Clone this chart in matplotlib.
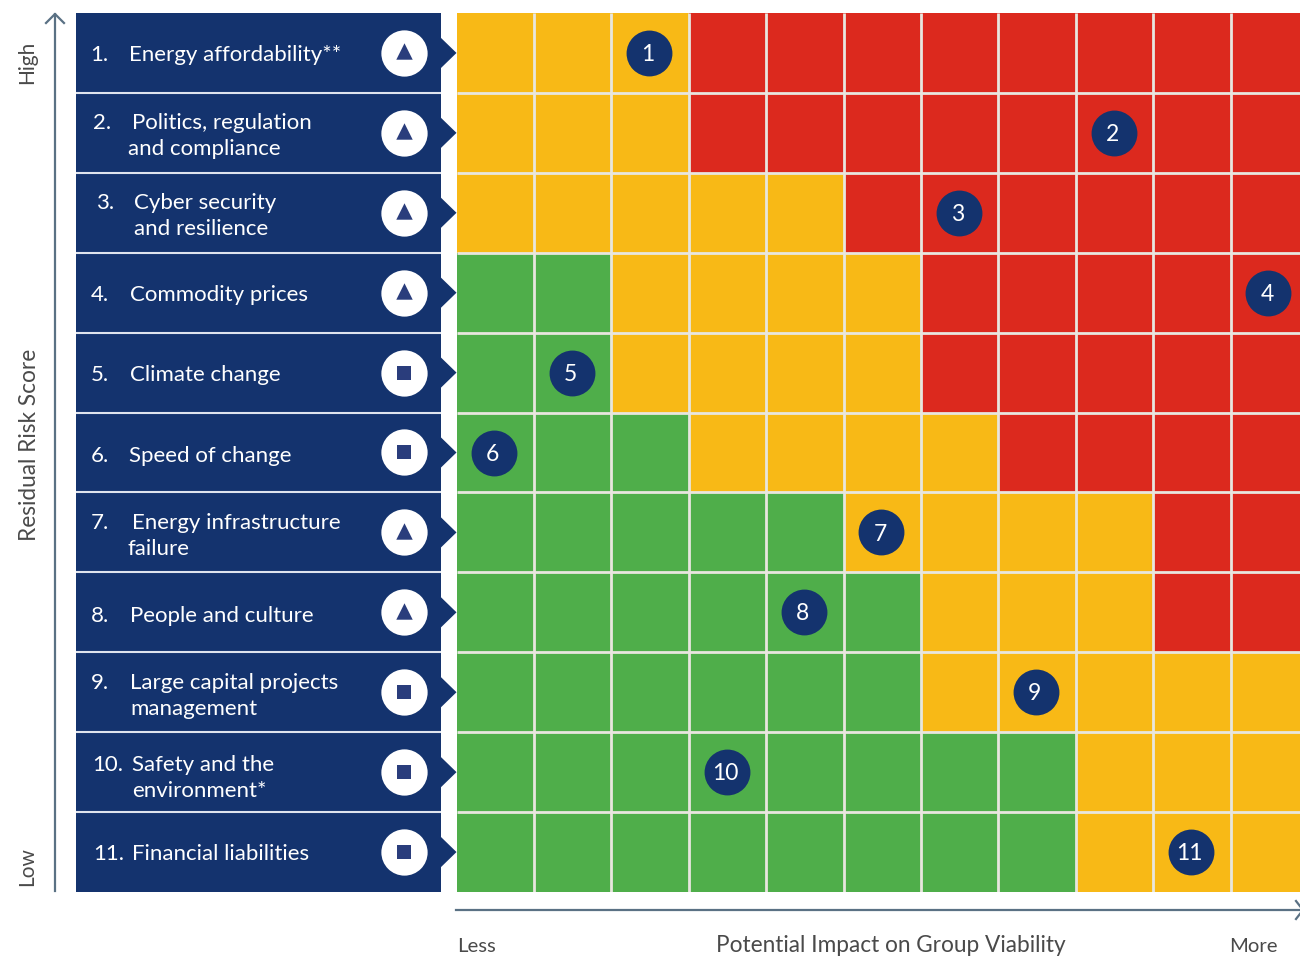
import numpy as np
import matplotlib
matplotlib.use("Agg")
import matplotlib.pyplot as plt
from matplotlib.colors import ListedColormap
from matplotlib.patches import Polygon, Rectangle

plt.rcParams['font.family'] = ['Lato', 'DejaVu Sans']

W, H = 1300, 957
NAVY = '#14336e'
MARK = '#2a3d7c'
ARROW = '#5a7184'
TXT = '#4a4a4a'

# number of green and amber cells in each row, the rest is red
green_cells = [0, 0, 0, 2, 2, 3, 5, 6, 6, 8, 8]
amber_cells = [3, 3, 5, 4, 4, 4, 4, 3, 5, 3, 3]

# column and row of each numbered risk
risk_col = [2, 8, 6, 10, 1, 0, 5, 4, 7, 3, 9]
risk_row = [0, 1, 2, 3, 4, 5, 6, 7, 8, 9, 10]

risk_status = ['up', 'up', 'up', 'up', 'flat', 'flat', 'up', 'up', 'flat', 'flat', 'flat']

# number, then text lines
risk_names = [
    ('1.', ['Energy affordability**']),
    ('2.', ['Politics, regulation', 'and compliance']),
    ('3.', ['Cyber security', 'and resilience']),
    ('4.', ['Commodity prices']),
    ('5.', ['Climate change']),
    ('6.', ['Speed of change']),
    ('7.', ['Energy infrastructure', 'failure']),
    ('8.', ['People and culture']),
    ('9.', ['Large capital projects', 'management']),
    ('10.', ['Safety and the', 'environment*']),
    ('11.', ['Financial liabilities']),
]

# small hand placed offsets of the labels (pixels)
num_x = [90, 93, 96, 91, 91, 91, 91, 91, 91, 92, 93]
line_x = [[129], [132, 128], [134, 134], [130], [130], [129], [132, 128], [130], [130, 130], [132, 132], [132]]
line_y = [[55], [123, 149], [203, 229], [295], [375], [456], [523, 549], [616], [683, 709], [765, 791], [854]]

n_rows = len(green_cells)
n_cols = 11
matrix = np.full((n_rows, n_cols), 2)
for r in range(n_rows):
    matrix[r, :green_cells[r]] = 0
    matrix[r, green_cells[r]:green_cells[r] + amber_cells[r]] = 1

fig = plt.figure(figsize=(W / 100, H / 100), dpi=100, facecolor='white')

# page layer in pixels for the panel and the arrows
page = fig.add_axes([0, 0, 1, 1])
page.set_xlim(0, W)
page.set_ylim(H, 0)
page.axis('off')

# heat grid, cropped on the right like the original
grid_left, grid_top, grid_bottom = 456.5, 13, 892
cell_w = 77.4
cell_h = (grid_bottom - grid_top) / n_rows
ax = fig.add_axes([grid_left / W, 1 - grid_bottom / H, (W - grid_left) / W, (grid_bottom - grid_top) / H])
cmap = ListedColormap(['#4fae4a', '#f8b916', '#dc291e'])
ax.pcolormesh(np.arange(n_cols + 1), np.arange(n_rows + 1), matrix, cmap=cmap, vmin=0, vmax=2)
ax.vlines(np.arange(1, n_cols), 0, n_rows, color='#e8e6df', lw=2)
ax.hlines(np.arange(1, n_rows), 0, n_cols, color='#e8e6df', lw=2)
ax.set_xlim(0, (W - grid_left) / cell_w)
ax.set_ylim(n_rows, 0)
ax.axis('off')

ax.scatter(np.array(risk_col) + 0.49, np.array(risk_row) + 0.5, s=1090, color=NAVY, zorder=3, linewidths=0)
for i in range(n_rows):
    ax.text(risk_col[i] + 0.47, risk_row[i] + 0.52, str(i + 1), color='white', fontsize=16.5,
            ha='center', va='center', zorder=4)

# left panel
panel_l, panel_r = 76, 441
for r in range(n_rows):
    top = grid_top + r * cell_h
    bot = top + cell_h
    mid = (top + bot) / 2
    page.add_patch(Rectangle((panel_l, top), panel_r - panel_l, cell_h, fc=NAVY, ec='none', zorder=1))
    page.add_patch(Polygon([(panel_r - 1, mid - 16), (grid_left, mid), (panel_r - 1, mid + 16)], fc=NAVY, ec='none', zorder=1))
    if r > 0:
        page.plot([panel_l, panel_r], [top, top], color='#dfe4ee', lw=1.5, zorder=2, solid_capstyle='butt')

    page.scatter([403.7], [mid], s=1110, color='white', linewidths=0, zorder=3)
    if risk_status[r] == 'up':
        page.scatter([403.7], [mid - 1.5], marker='^', s=140, color=MARK, linewidths=0, zorder=4)
    else:
        page.scatter([403.7], [mid], marker='s', s=88, color=MARK, linewidths=0, zorder=4)

    num, lines = risk_names[r]
    page.text(num_x[r], line_y[r][0], num, color='white', fontsize=16, ha='left', va='center', zorder=4)
    for k, t in enumerate(lines):
        page.text(line_x[r][k], line_y[r][k], t, color='white', fontsize=16, ha='left', va='center', zorder=4)

# axis arrows
page.plot([55, 55], [891, 14], color=ARROW, lw=1.6, zorder=2)
page.plot([46, 55, 64], [23, 14, 23], color=ARROW, lw=1.6, zorder=2)
page.plot([456, 1299], [910, 910], color=ARROW, lw=1.6, zorder=2)
page.plot([1296, 1303, 1296], [901, 910, 919], color=ARROW, lw=1.6, zorder=2)

page.text(27, 62, 'High', rotation=90, color=TXT, fontsize=15, ha='center', va='center')
page.text(27, 867, 'Low', rotation=90, color=TXT, fontsize=15, ha='center', va='center')
page.text(30, 445, 'Residual Risk Score', rotation=90, color=TXT, fontsize=16.3, ha='center', va='center')
page.text(457, 946, 'Less', color=TXT, fontsize=14.6, ha='left', va='center')
page.text(891, 946, 'Potential Impact on Group Viability', color=TXT, fontsize=16.3, ha='center', va='center')
page.text(1229, 946, 'More', color=TXT, fontsize=14.6, ha='left', va='center')

fig.savefig('out.png', dpi=100, facecolor='white')
